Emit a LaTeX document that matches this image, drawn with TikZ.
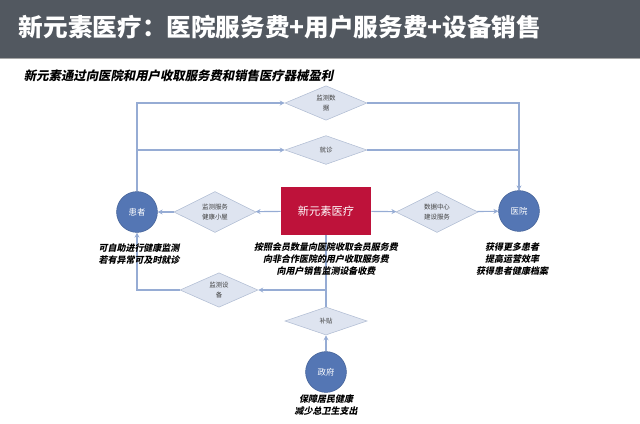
\documentclass[tikz,border=0pt]{standalone}
\usepackage{fontspec}
\usepackage{xcolor}
\usepackage{tikz}
\usetikzlibrary{shapes.geometric, arrows.meta, positioning}
\newfontfamily\cjk{Noto Sans CJK SC}
\newfontfamily\cjknote[FakeSlant=0.2]{Noto Sans CJK SC}
\definecolor{headbg}{RGB}{82, 88, 96}
\definecolor{flowline}{RGB}{150, 172, 212}
\definecolor{choicefill}{RGB}{222, 228, 240}
\definecolor{choiceline}{RGB}{178, 190, 212}
\definecolor{partyfill}{RGB}{84, 118, 180}
\definecolor{boxred}{RGB}{190, 18, 58}

\begin{document}
\begin{tikzpicture}[
    x=0.025cm, y=-0.025cm,
    flow/.style={draw=flowline, line width=0.8pt, -{Stealth[length=3.5pt, width=3.5pt]}},
    link/.style={draw=flowline, line width=0.8pt},
    choice/.style={diamond, draw=choiceline, fill=choicefill, inner sep=0pt, minimum width=2.05cm, minimum height=0.75cm, font=\cjk\fontsize{4.6}{6.5}\selectfont, align=center, text=black!75},
    party/.style={circle, draw=partyfill!85!black, fill=partyfill, minimum size=1.02cm, inner sep=0pt, text=white, font=\cjk\fontsize{6}{7}\selectfont},
    note/.style={font=\cjknote\bfseries\fontsize{6.4}{8.6}\selectfont, align=center}
]
\useasboundingbox (0,0) rectangle (640,423);

% header
\fill[headbg] (0,0) rectangle (640,58);
\draw[black!35, line width=1pt] (0,58.5) -- (640,58.5);
\node[anchor=west, text=white, font=\cjk\bfseries\fontsize{17.5}{20}\selectfont] (title) at (14,27) {新元素医疗：医院服务费+用户服务费+设备销售};
\node[anchor=west, font=\cjknote\bfseries\fontsize{8.8}{10}\selectfont] (subtitle) at (19,76) {新元素通过向医院和用户收取服务费和销售医疗器械盈利};

% main parties
\node[party] (patient) at (137,212) {患者};
\node[party] (hospital) at (519,211) {医院};
\node[party] (gov) at (326,372) {政府};
\node[rectangle, fill=boxred, minimum width=2.25cm, minimum height=1.18cm, text=white, font=\cjk\fontsize{8}{9}\selectfont] (xys) at (326,211) {新元素医疗};

% services
\node[choice] (data) at (326,103) {监测数\\据};
\node[choice, minimum height=0.72cm] (visit) at (326,150) {就诊};
\node[choice] (serve) at (215,212) {监测服务\\健康小屋};
\node[choice] (dc) at (437,212) {数据中心\\建设服务};
\node[choice, minimum width=1.95cm] (device) at (219,290) {监测设\\备};
\node[choice, minimum height=0.7cm] (subsidy) at (326,321) {补贴};

\draw[flow] (patient.north) -- (patient.north |- data.west) -- (data.west);
\draw[flow] (patient.north |- visit.west) -- (visit.west);
\draw[flow] (data.east) -| (hospital.north);
\draw[link] (visit.east) -| (hospital.north);
\draw[flow] (xys) -- (serve);
\draw[flow] (serve) -- (patient);
\draw[flow] (xys) -- (dc);
\draw[flow] (dc) -- (hospital);
\draw[flow] (xys.south) |- (device.east);
\draw[flow] (device.west) -| (patient.south);
\draw[link] (subsidy.north) -- (xys.south);
\draw[flow] (gov) -- (subsidy);

% notes
\node[note] (patientnote) at (139,254) {可自助进行健康监测\\若有异常可及时就诊};
\node[note] (xysnote) at (326,259) {按照会员数量向医院收取会员服务费\\向非合作医院的用户收取服务费\\向用户销售监测设备收费};
\node[note] (hospitalnote) at (512,259) {获得更多患者\\提高运营效率\\获得患者健康档案};
\node[note] (govnote) at (326,405) {保障居民健康\\减少总卫生支出};

\end{tikzpicture}
\end{document}
